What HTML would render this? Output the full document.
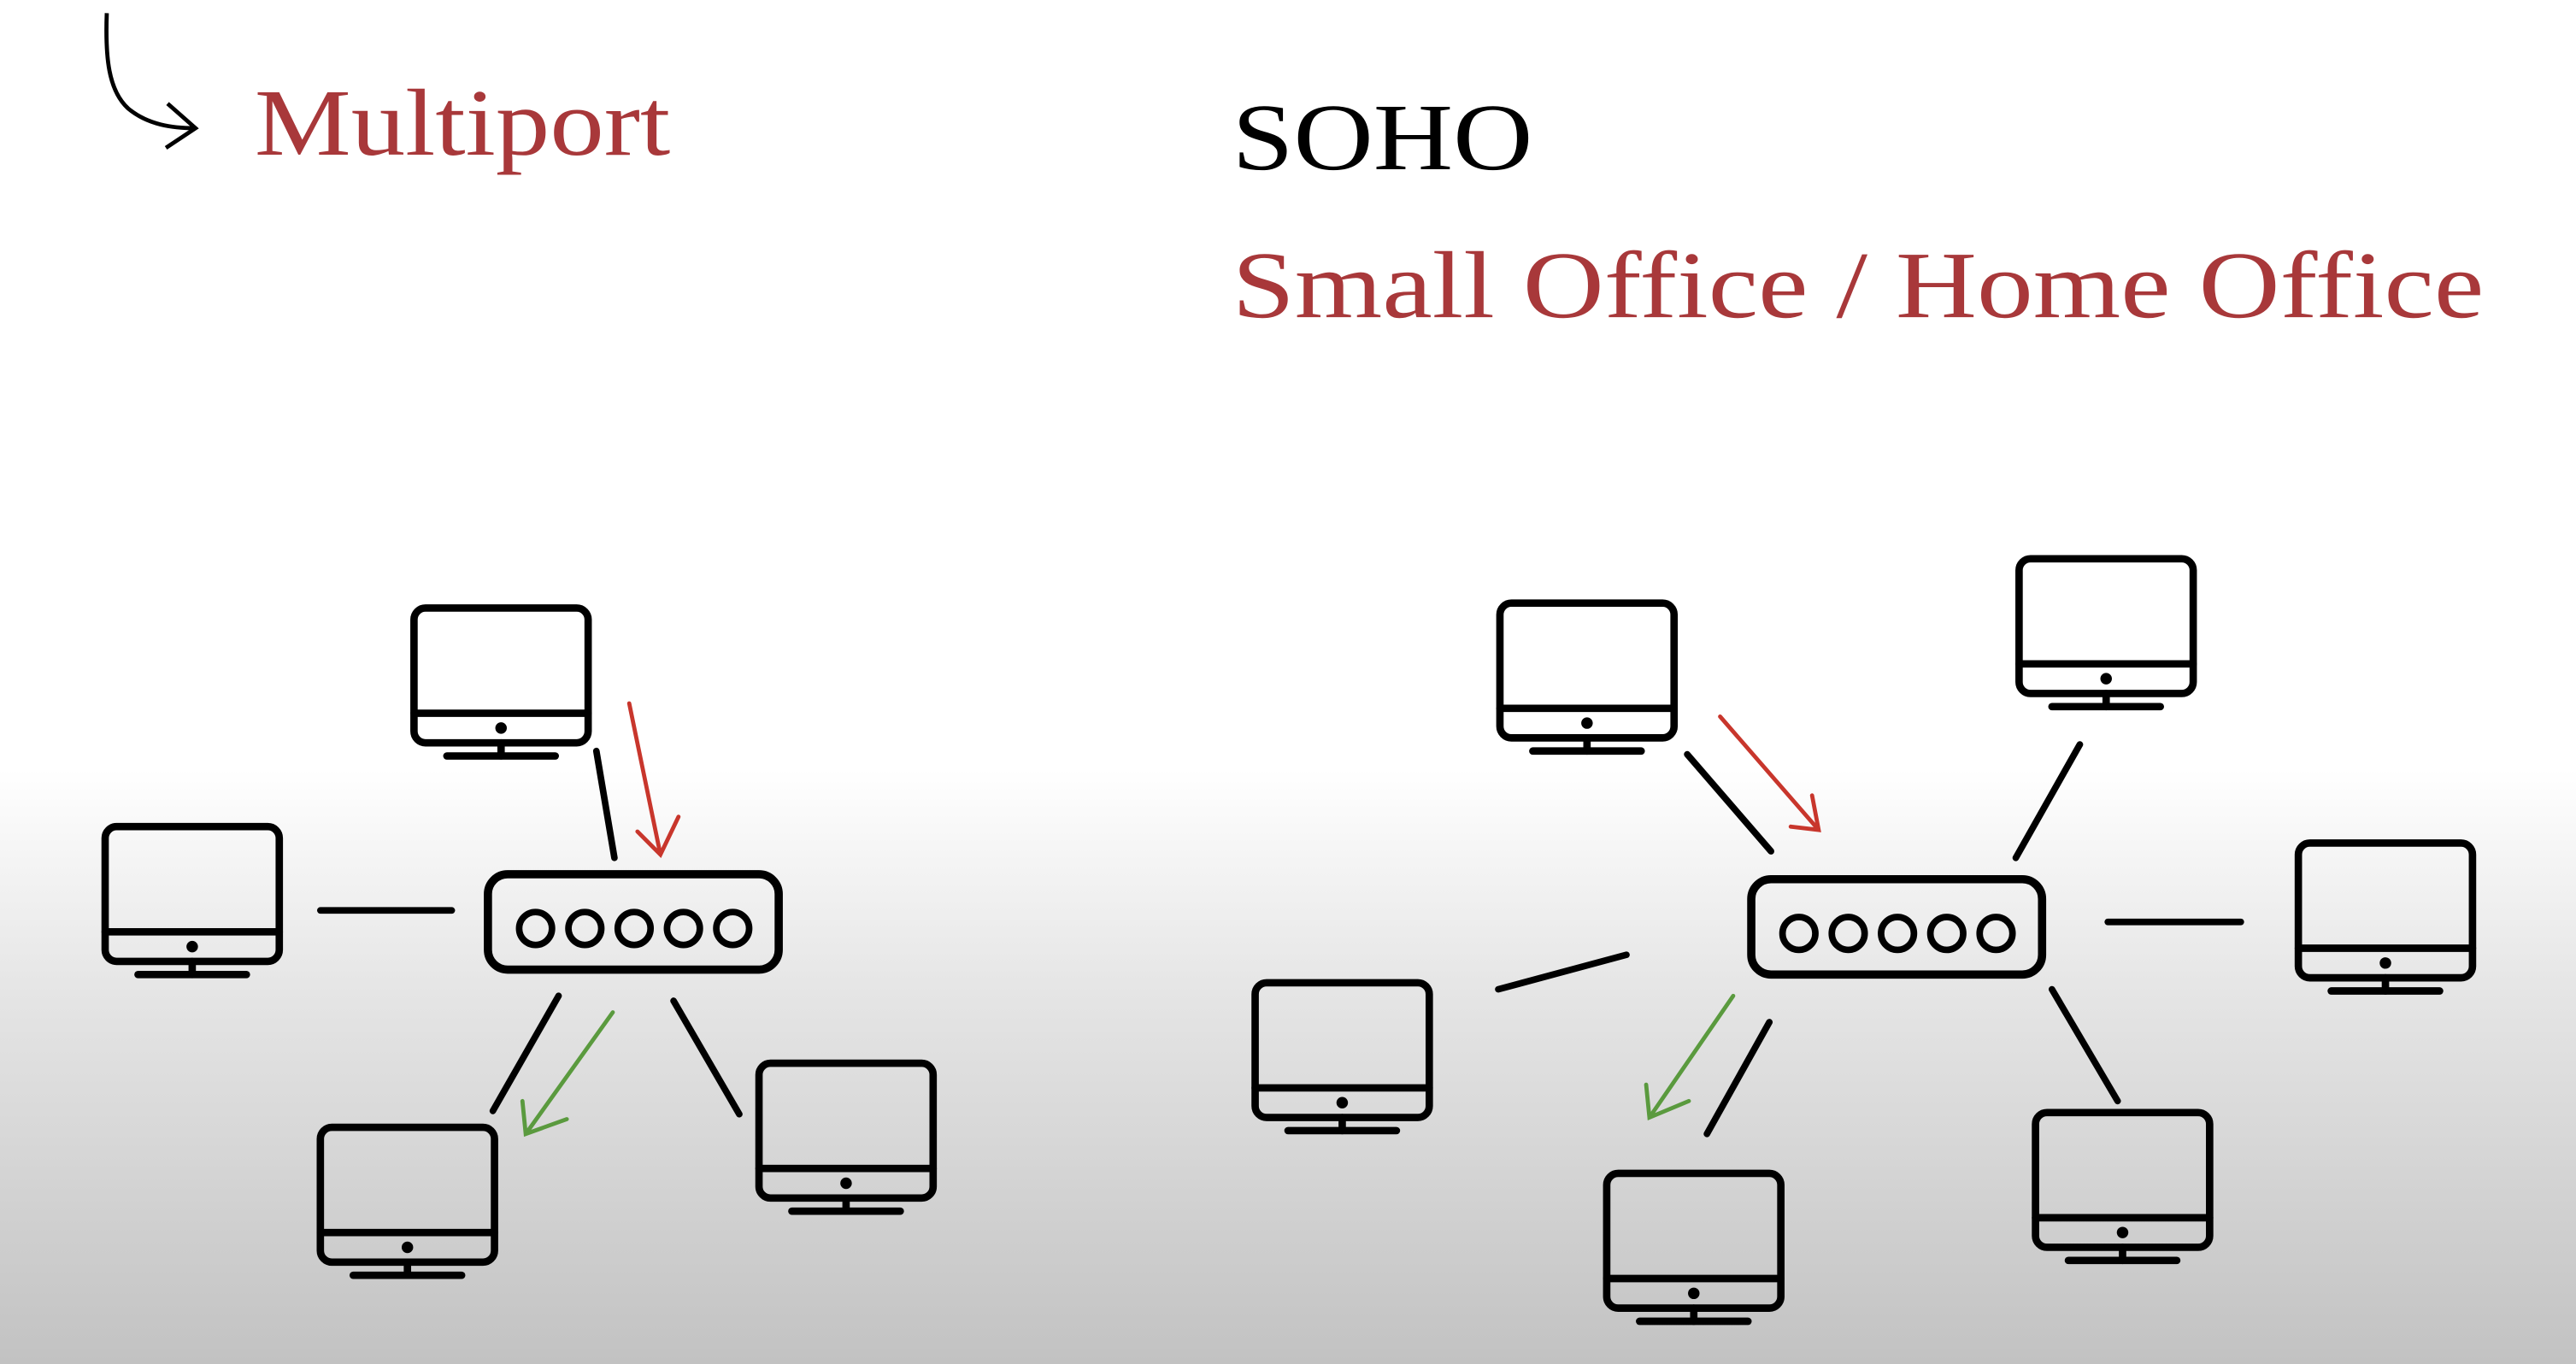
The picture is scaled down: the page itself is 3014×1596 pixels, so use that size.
<!DOCTYPE html>
<html><head><meta charset="utf-8"><style>
html,body{margin:0;padding:0;width:3014px;height:1596px;overflow:hidden;}
body{background:linear-gradient(to bottom,#fff 0px,#fff 900px,#e6e6e6 1150px,#c2c2c2 1596px);}
svg{position:absolute;left:0;top:0;}
</style></head><body>
<svg width="3014" height="1596" viewBox="0 0 1568 830" preserveAspectRatio="none" xmlns="http://www.w3.org/2000/svg">
<defs>
<g id="m" fill="none" stroke="#000" stroke-width="4.5" stroke-linecap="round">
<rect x="0" y="0" width="106" height="82" rx="7"/>
<line x1="0" y1="64" x2="106" y2="64"/>
<circle cx="53" cy="73" r="3.5" fill="#000" stroke="none"/>
<line x1="53" y1="82" x2="53" y2="90"/>
<line x1="20" y1="90" x2="86" y2="90"/>
</g>
<g id="s" fill="none" stroke="#000">
<rect x="0" y="0" width="177" height="58" rx="12" stroke-width="5"/>
<circle cx="29" cy="33" r="10" stroke-width="4"/>
<circle cx="59" cy="33" r="10" stroke-width="4"/>
<circle cx="89" cy="33" r="10" stroke-width="4"/>
<circle cx="119" cy="33" r="10" stroke-width="4"/>
<circle cx="149" cy="33" r="10" stroke-width="4"/>
</g>
</defs>
<path d="M65 8 C64 35 66 55 78 66 C90 76 105 78 119 78" fill="none" stroke="#000" stroke-width="2.5"/>
<path d="M102 63 L119 78 L101 90" fill="none" stroke="#000" stroke-width="2.5"/>
<text x="155" y="94" font-family="Liberation Serif, serif" font-size="58" fill="#a8383a" textLength="253" lengthAdjust="spacingAndGlyphs">Multiport</text>
<text x="750" y="103" font-family="Liberation Serif, serif" font-size="58" fill="#000" textLength="183" lengthAdjust="spacingAndGlyphs">SOHO</text>
<text x="750" y="193" font-family="Liberation Serif, serif" font-size="58" fill="#a8383a" textLength="762" lengthAdjust="spacingAndGlyphs">Small Office / Home Office</text>

<g stroke="#000" stroke-width="4" stroke-linecap="round">
<line x1="363" y1="457" x2="374" y2="522"/>
<line x1="195" y1="554" x2="275" y2="554"/>
<line x1="340" y1="606" x2="300" y2="676"/>
<line x1="410" y1="609" x2="450" y2="678"/>
<line x1="1027" y1="459" x2="1078" y2="518"/>
<line x1="1266" y1="453" x2="1227" y2="522"/>
<line x1="1283" y1="561" x2="1364" y2="561"/>
<line x1="912" y1="602" x2="990" y2="581"/>
<line x1="1077" y1="622" x2="1039" y2="690"/>
<line x1="1249" y1="602" x2="1289" y2="670"/>
</g>
<g fill="none" stroke="#c8362c" stroke-width="2.5" stroke-linecap="round">
<path d="M383 428 L402 520 M388 506 L402 520 L413 497"/>
<path d="M1047 436 L1107 505 M1090 503 L1107 505 L1103 484"/>
</g>
<g fill="none" stroke="#5a9a3e" stroke-width="2.5" stroke-linecap="round">
<path d="M373 616 L320 690 M318 670 L320 690 L345 681"/>
<path d="M1055 606 L1004 680 M1002 660 L1004 680 L1028 670"/>
</g>
<use href="#s" x="297" y="532"/>
<use href="#s" x="1066" y="535"/>
<use href="#m" x="252" y="370"/>
<use href="#m" x="64" y="503"/>
<use href="#m" x="195" y="686"/>
<use href="#m" x="462" y="647"/>
<use href="#m" x="913" y="367"/>
<use href="#m" x="1229" y="340"/>
<use href="#m" x="1399" y="513"/>
<use href="#m" x="764" y="598"/>
<use href="#m" x="978" y="714"/>
<use href="#m" x="1239" y="677"/>
</svg>
</body></html>
